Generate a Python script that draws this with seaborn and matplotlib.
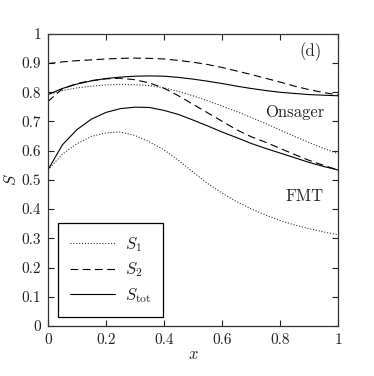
import numpy as np
import pandas as pd
import seaborn as sns
import matplotlib
matplotlib.use("Agg")
import matplotlib.pyplot as plt

# composition x
x = [0.0, 0.05, 0.1, 0.15, 0.2, 0.25, 0.3, 0.35, 0.4, 0.45, 0.5,
     0.55, 0.6, 0.65, 0.7, 0.75, 0.8, 0.85, 0.9, 0.95, 1.0]

# Onsager curves
ons_s1 = [0.792, 0.806, 0.815, 0.821, 0.825, 0.827, 0.826, 0.823, 0.815, 0.803, 0.788,
          0.771, 0.753, 0.734, 0.714, 0.693, 0.671, 0.649, 0.628, 0.608, 0.590]
ons_s2 = [0.898, 0.904, 0.908, 0.911, 0.914, 0.916, 0.917, 0.916, 0.914, 0.909, 0.903,
          0.895, 0.885, 0.873, 0.861, 0.848, 0.835, 0.821, 0.809, 0.799, 0.791]
ons_tot = [0.792, 0.813, 0.828, 0.839, 0.847, 0.852, 0.855, 0.856, 0.855, 0.851, 0.845,
           0.838, 0.830, 0.821, 0.813, 0.806, 0.800, 0.796, 0.792, 0.790, 0.788]

# FMT curves
fmt_s1 = [0.534, 0.588, 0.624, 0.649, 0.661, 0.664, 0.652, 0.630, 0.603, 0.567, 0.527,
          0.488, 0.455, 0.426, 0.401, 0.380, 0.361, 0.346, 0.333, 0.322, 0.312]
fmt_s2 = [0.768, 0.812, 0.830, 0.840, 0.846, 0.848, 0.843, 0.832, 0.814, 0.788, 0.759,
          0.730, 0.701, 0.672, 0.648, 0.629, 0.608, 0.587, 0.567, 0.550, 0.534]
fmt_tot = [0.534, 0.620, 0.672, 0.708, 0.731, 0.744, 0.749, 0.748, 0.738, 0.724, 0.705,
           0.685, 0.664, 0.645, 0.625, 0.608, 0.592, 0.576, 0.560, 0.546, 0.534]

sns.set_style("ticks")
plt.rcParams["font.family"] = "cmr10"
plt.rcParams["mathtext.fontset"] = "cm"
plt.rcParams["axes.formatter.use_mathtext"] = True

fig = plt.figure(figsize=(3.74, 3.76), dpi=100)
ax = fig.add_axes([0.128, 0.133, 0.776, 0.777])

lw = 0.8
styles = {"s1": dict(linestyle=(0, (1, 1.6)), linewidth=lw, color="#333333"),
          "s2": dict(linestyle=(0, (7, 4)), linewidth=lw, color="black"),
          "tot": dict(linestyle="-", linewidth=lw, color="black")}

sns.lineplot(x=x, y=ons_s1, ax=ax, label=r"$S_1$", **styles["s1"])
sns.lineplot(x=x, y=ons_s2, ax=ax, label=r"$S_2$", **styles["s2"])
sns.lineplot(x=x, y=ons_tot, ax=ax, label=r"$S_{\rm tot}$", **styles["tot"])
sns.lineplot(x=x, y=fmt_s1, ax=ax, **styles["s1"])
sns.lineplot(x=x, y=fmt_s2, ax=ax, **styles["s2"])
sns.lineplot(x=x, y=fmt_tot, ax=ax, **styles["tot"])

ax.set_xlim(0, 1)
ax.set_ylim(0, 1)
ax.set_xticks(np.arange(0, 1.01, 0.2))
ax.set_xticklabels(["0", "0.2", "0.4", "0.6", "0.8", "1"])
ax.set_yticks(np.arange(0, 1.01, 0.1))
ax.set_yticklabels(["0", "0.1", "0.2", "0.3", "0.4", "0.5", "0.6", "0.7", "0.8", "0.9", "1"])
ax.tick_params(direction="in", length=4, width=0.8, top=True, right=True,
               labelsize=11, pad=5, colors="#222222")
for sp in ax.spines.values():
    sp.set_linewidth(0.9)
    sp.set_color("#333333")

ax.set_xlabel(r"$x$", fontsize=12, labelpad=0)
ax.set_ylabel(r"$S$", fontsize=12, labelpad=2)

ax.text(0.852, 0.732, "Onsager", fontsize=12, ha="center", va="center")
ax.text(0.886, 0.443, "FMT", fontsize=12, ha="center", va="center")
ax.text(0.906, 0.94, "(d)", fontsize=12, ha="center", va="center")

leg = ax.legend(loc="lower left", bbox_to_anchor=(0.036, 0.032), borderaxespad=0,
                fontsize=12, handlelength=2.7, handletextpad=0.6, labelspacing=0.4,
                borderpad=0.7, fancybox=False, framealpha=1, edgecolor="black")
leg.get_frame().set_linewidth(0.9)

fig.savefig("out.png", dpi=100)
